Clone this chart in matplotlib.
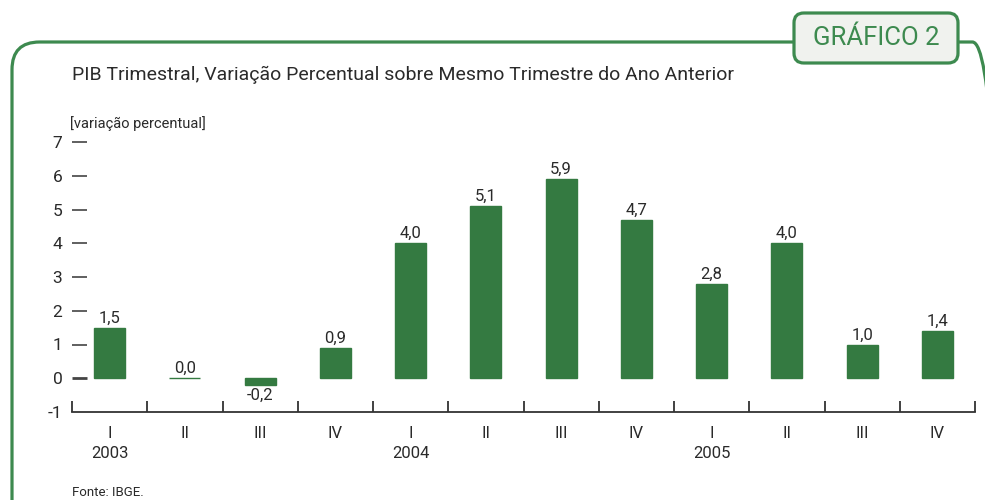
import matplotlib
matplotlib.use("Agg")
import matplotlib.pyplot as plt
from matplotlib.patches import FancyBboxPatch

# data
quarters = ["I", "II", "III", "IV", "I", "II", "III", "IV", "I", "II", "III", "IV"]
years = ["2003", "", "", "", "2004", "", "", "", "2005", "", "", ""]
values = [1.5, 0.0, -0.2, 0.9, 4.0, 5.1, 5.9, 4.7, 2.8, 4.0, 1.0, 1.4]
yticks = [-1, 0, 1, 2, 3, 4, 5, 6, 7]

green = "#347a41"
frame_green = "#3d8a4f"
text_col = "#2a2a2a"

plt.rcParams["font.family"] = ["Roboto", "DejaVu Sans"]

fig = plt.figure(figsize=(9.85, 5.0), dpi=100)
W, H = 985, 500

def fx(px):
    return px / W

def fy(py):
    return 1 - py / H

# outer frame with rounded corners (runs off the canvas at right and bottom)
frame = FancyBboxPatch((fx(12), fy(560)), fx(1000) - fx(12), fy(42) - fy(560),
                       boxstyle="round,pad=0,rounding_size=0.028",
                       transform=fig.transFigure, fill=False,
                       edgecolor=frame_green, linewidth=2.3, zorder=1,
                       mutation_aspect=W / H)
fig.patches.append(frame)

# "GRÁFICO 2" label box
lab = FancyBboxPatch((fx(794), fy(63)), fx(164), fy(0) - fy(50),
                     boxstyle="round,pad=0,rounding_size=0.01",
                     transform=fig.transFigure, facecolor="#f0f2ee",
                     edgecolor=frame_green, linewidth=2.3, zorder=2,
                     mutation_aspect=W / H)
fig.patches.append(lab)
fig.text(fx(876), fy(38), "GRÁFICO 2", color=frame_green, fontsize=18.5,
         ha="center", va="center", zorder=3)

fig.text(fx(72), fy(75), "PIB Trimestral, Variação Percentual sobre Mesmo Trimestre do Ano Anterior",
         color=text_col, fontsize=14, ha="left", va="center")
fig.text(fx(70), fy(124), "[variação percentual]", color=text_col, fontsize=10.5,
         ha="left", va="center")
fig.text(fx(72), fy(493), "Fonte: IBGE.", color=text_col, fontsize=9.5,
         ha="left", va="center")

ax = fig.add_axes([fx(72), fy(412), fx(975) - fx(72), fy(142) - fy(412)])
x = list(range(len(values)))
ax.bar(x, values, width=0.41, color=green, edgecolor=green, linewidth=1)

for xi, v in zip(x, values):
    label = f"{v:.1f}".replace(".", ",")
    if v < 0:
        ax.annotate(label, (xi, v), xytext=(0, -2), textcoords="offset points",
                    ha="center", va="top", fontsize=12, color=text_col)
    else:
        ax.annotate(label, (xi, v), xytext=(0, 1.5), textcoords="offset points",
                    ha="center", va="bottom", fontsize=12, color=text_col)

ax.set_xlim(-0.5, len(values) - 0.5)
ax.set_ylim(-1, 7)

for s in ["top", "right", "left"]:
    ax.spines[s].set_visible(False)
ax.spines["bottom"].set_color("#333333")
ax.spines["bottom"].set_linewidth(1.3)

ax.set_yticks(yticks)
ax.set_yticklabels([str(t) for t in yticks])
ax.tick_params(axis="y", direction="in", length=11, width=1.2, color="#444444",
               labelsize=12.5, labelcolor=text_col, pad=7)
for t, tick in zip(yticks, ax.yaxis.get_major_ticks()):
    if t == 0:
        tick.tick1line.set_color("#111111")
        tick.tick1line.set_markeredgewidth(2)
    if t == -1:
        tick.tick1line.set_visible(False)

ax.set_xticks(x)
ax.set_xticklabels([q + ("\n" + yr if yr else "") for q, yr in zip(quarters, years)],
                   linespacing=1.45)
ax.tick_params(axis="x", which="major", length=0, labelsize=12,
               labelcolor=text_col, pad=10)
ax.set_xticks([i - 0.5 for i in range(len(values) + 1)], minor=True)
ax.tick_params(axis="x", which="minor", direction="in", length=8, width=1.3,
               color="#333333")

fig.savefig("out.png", dpi=100)
